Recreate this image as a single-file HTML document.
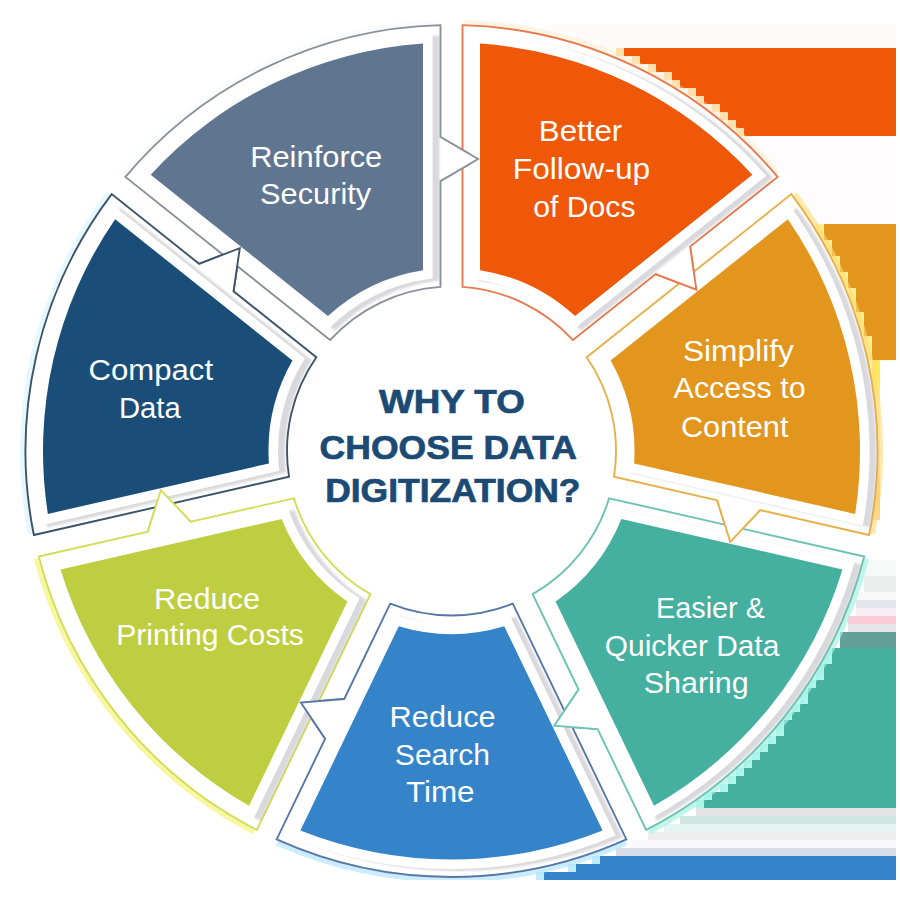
<!DOCTYPE html>
<html><head><meta charset="utf-8"><title>Why to choose data digitization</title>
<style>
html,body{margin:0;padding:0;background:#fff;}
body{width:900px;height:900px;overflow:hidden;font-family:"Liberation Sans",sans-serif;}
svg{display:block}
.lb{font-family:"Liberation Sans",sans-serif;font-size:29px;fill:#fff;}
.ct{font-family:"Liberation Sans",sans-serif;font-size:33px;font-weight:bold;fill:#1b4a75;stroke:#1b4a75;stroke-width:0.7px;}
</style></head><body>
<svg width="900" height="900" viewBox="0 0 900 900">
<defs>
<filter id="sh" x="-10%" y="-10%" width="120%" height="120%">
<feGaussianBlur in="SourceAlpha" stdDeviation="1.1" result="b"/>
<feOffset in="b" dx="6.5" dy="2.2" result="o"/>
<feFlood flood-color="#8e8e9c" flood-opacity="0.34"/>
<feComposite in2="o" operator="in" result="s"/>
<feMerge><feMergeNode in="s"/><feMergeNode in="SourceGraphic"/></feMerge>
</filter>
<linearGradient id="gf" x1="0" y1="0" x2="0" y2="1">
<stop offset="0" stop-color="#ffe85c"/><stop offset="0.12" stop-color="#ffe85c"/><stop offset="0.3" stop-color="#fff3b0"/><stop offset="0.6" stop-color="#fdebc8"/><stop offset="0.85" stop-color="#f6c878"/><stop offset="1" stop-color="#f8d8a0"/>
</linearGradient>
</defs>
<rect width="900" height="900" fill="#fff"/>
<rect x="552" y="24.0" width="344.0" height="8.1" fill="#fdf9f9"/>
<rect x="576" y="32.0" width="320.0" height="8.1" fill="#fdf9f9"/>
<rect x="600" y="40.0" width="296.0" height="8.1" fill="#fdf9f9"/>
<rect x="616" y="48.0" width="8" height="8.1" fill="#ffd591" opacity="0.75"/>
<rect x="624" y="48.0" width="272.0" height="8.1" fill="#ef5709"/>
<rect x="632" y="56.0" width="8" height="8.1" fill="#ffd591" opacity="0.75"/>
<rect x="640" y="56.0" width="256.0" height="8.1" fill="#ef5709"/>
<rect x="648" y="64.0" width="8" height="8.1" fill="#ffd591" opacity="0.75"/>
<rect x="656" y="64.0" width="240.0" height="8.1" fill="#ef5709"/>
<rect x="664" y="72.0" width="8" height="8.1" fill="#ffd591" opacity="0.75"/>
<rect x="672" y="72.0" width="224.0" height="8.1" fill="#ef5709"/>
<rect x="672" y="80.0" width="8" height="8.1" fill="#ffd591" opacity="0.75"/>
<rect x="680" y="80.0" width="216.0" height="8.1" fill="#ef5709"/>
<rect x="688" y="88.0" width="8" height="8.1" fill="#ffd591" opacity="0.75"/>
<rect x="696" y="88.0" width="200.0" height="8.1" fill="#ef5709"/>
<rect x="696" y="96.0" width="8" height="8.1" fill="#ffd591" opacity="0.75"/>
<rect x="704" y="96.0" width="192.0" height="8.1" fill="#ef5709"/>
<rect x="712" y="104.0" width="8" height="8.1" fill="#ffd591" opacity="0.75"/>
<rect x="720" y="104.0" width="176.0" height="8.1" fill="#ef5709"/>
<rect x="720" y="112.0" width="8" height="8.1" fill="#ffd591" opacity="0.75"/>
<rect x="728" y="112.0" width="168.0" height="8.1" fill="#ef5709"/>
<rect x="728" y="120.0" width="8" height="8.1" fill="#ffd591" opacity="0.75"/>
<rect x="736" y="120.0" width="160.0" height="8.1" fill="#ef5709"/>
<rect x="736" y="128.0" width="8" height="8.1" fill="#ffd591" opacity="0.75"/>
<rect x="744" y="128.0" width="152.0" height="8.1" fill="#ef5709"/>
<rect x="752" y="136.0" width="144.0" height="8.1" fill="#fefcfc"/>
<rect x="760" y="144.0" width="136.0" height="8.1" fill="#fefcfc"/>
<rect x="768" y="152.0" width="128.0" height="8.1" fill="#fefcfc"/>
<rect x="776" y="160.0" width="120.0" height="8.1" fill="#fefcfc"/>
<rect x="784" y="168.0" width="112.0" height="8.1" fill="#fefcfc"/>
<rect x="792" y="176.0" width="104.0" height="8.1" fill="#fefcfc"/>
<rect x="792" y="184.0" width="104.0" height="8.1" fill="#fefcfc"/>
<rect x="800" y="192.0" width="96.0" height="8.1" fill="#fefcfc"/>
<rect x="808" y="200.0" width="88.0" height="8.1" fill="#fefcfc"/>
<rect x="816" y="208.0" width="80.0" height="8.1" fill="#fefcfc"/>
<rect x="816" y="216.0" width="80.0" height="8.1" fill="#fefcfc"/>
<rect x="816" y="224.0" width="8" height="8.1" fill="#ffe96a" opacity="0.75"/>
<rect x="824" y="224.0" width="72.0" height="8.1" fill="#e2961d"/>
<rect x="816" y="232.0" width="8" height="8.1" fill="#ffe96a" opacity="0.75"/>
<rect x="824" y="232.0" width="72.0" height="8.1" fill="#e2961d"/>
<rect x="824" y="240.0" width="8" height="8.1" fill="#ffe96a" opacity="0.75"/>
<rect x="832" y="240.0" width="64.0" height="8.1" fill="#e2961d"/>
<rect x="824" y="248.0" width="8" height="8.1" fill="#ffe96a" opacity="0.75"/>
<rect x="832" y="248.0" width="64.0" height="8.1" fill="#e2961d"/>
<rect x="832" y="256.0" width="8" height="8.1" fill="#ffe96a" opacity="0.75"/>
<rect x="840" y="256.0" width="56.0" height="8.1" fill="#e2961d"/>
<rect x="832" y="264.0" width="8" height="8.1" fill="#ffe96a" opacity="0.75"/>
<rect x="840" y="264.0" width="56.0" height="8.1" fill="#e2961d"/>
<rect x="840" y="272.0" width="8" height="8.1" fill="#ffe96a" opacity="0.75"/>
<rect x="848" y="272.0" width="48.0" height="8.1" fill="#e2961d"/>
<rect x="840" y="280.0" width="8" height="8.1" fill="#ffe96a" opacity="0.75"/>
<rect x="848" y="280.0" width="48.0" height="8.1" fill="#e2961d"/>
<rect x="848" y="288.0" width="8" height="8.1" fill="#ffe96a" opacity="0.75"/>
<rect x="856" y="288.0" width="40.0" height="8.1" fill="#e2961d"/>
<rect x="848" y="296.0" width="8" height="8.1" fill="#ffe96a" opacity="0.75"/>
<rect x="856" y="296.0" width="40.0" height="8.1" fill="#e2961d"/>
<rect x="848" y="304.0" width="8" height="8.1" fill="#ffe96a" opacity="0.75"/>
<rect x="856" y="304.0" width="40.0" height="8.1" fill="#e2961d"/>
<rect x="856" y="312.0" width="8" height="8.1" fill="#ffe96a" opacity="0.75"/>
<rect x="864" y="312.0" width="32.0" height="8.1" fill="#e2961d"/>
<rect x="856" y="320.0" width="8" height="8.1" fill="#ffe96a" opacity="0.75"/>
<rect x="864" y="320.0" width="32.0" height="8.1" fill="#e2961d"/>
<rect x="856" y="328.0" width="8" height="8.1" fill="#ffe96a" opacity="0.75"/>
<rect x="864" y="328.0" width="32.0" height="8.1" fill="#e2961d"/>
<rect x="864" y="336.0" width="8" height="8.1" fill="#ffe96a" opacity="0.75"/>
<rect x="872" y="336.0" width="24.0" height="8.1" fill="#e2961d"/>
<rect x="864" y="344.0" width="8" height="8.1" fill="#ffe96a" opacity="0.75"/>
<rect x="872" y="344.0" width="24.0" height="8.1" fill="#e2961d"/>
<rect x="864" y="352.0" width="8" height="8.1" fill="#ffe96a" opacity="0.75"/>
<rect x="872" y="352.0" width="24.0" height="8.1" fill="#e2961d"/>
<rect x="864" y="560.0" width="32.0" height="8.1" fill="#f5faf8"/>
<rect x="864" y="568.0" width="32.0" height="8.1" fill="#f5faf8"/>
<rect x="864" y="576.0" width="32.0" height="8.1" fill="#e9eeec"/>
<rect x="864" y="584.0" width="32.0" height="8.1" fill="#e9eeec"/>
<rect x="856" y="592.0" width="40.0" height="8.1" fill="#f8f8f8"/>
<rect x="856" y="600.0" width="40.0" height="8.1" fill="#e2e5ea"/>
<rect x="856" y="608.0" width="40.0" height="8.1" fill="#f6eef2"/>
<rect x="848" y="616.0" width="48.0" height="8.1" fill="#f9cbd9"/>
<rect x="848" y="624.0" width="48.0" height="8.1" fill="#e6e6ea"/>
<rect x="840" y="632.0" width="56.0" height="8.1" fill="#63a196"/>
<rect x="840" y="640.0" width="56.0" height="8.1" fill="#63a196"/>
<rect x="824" y="648.0" width="8" height="8.1" fill="#93f3e3" opacity="0.75"/>
<rect x="832" y="648.0" width="64.0" height="8.1" fill="#45b0a0"/>
<rect x="824" y="656.0" width="8" height="8.1" fill="#93f3e3" opacity="0.75"/>
<rect x="832" y="656.0" width="64.0" height="8.1" fill="#45b0a0"/>
<rect x="816" y="664.0" width="8" height="8.1" fill="#93f3e3" opacity="0.75"/>
<rect x="824" y="664.0" width="72.0" height="8.1" fill="#45b0a0"/>
<rect x="816" y="672.0" width="8" height="8.1" fill="#93f3e3" opacity="0.75"/>
<rect x="824" y="672.0" width="72.0" height="8.1" fill="#45b0a0"/>
<rect x="808" y="680.0" width="8" height="8.1" fill="#93f3e3" opacity="0.75"/>
<rect x="816" y="680.0" width="80.0" height="8.1" fill="#45b0a0"/>
<rect x="800" y="688.0" width="8" height="8.1" fill="#93f3e3" opacity="0.75"/>
<rect x="808" y="688.0" width="88.0" height="8.1" fill="#45b0a0"/>
<rect x="800" y="696.0" width="8" height="8.1" fill="#93f3e3" opacity="0.75"/>
<rect x="808" y="696.0" width="88.0" height="8.1" fill="#45b0a0"/>
<rect x="792" y="704.0" width="8" height="8.1" fill="#93f3e3" opacity="0.75"/>
<rect x="800" y="704.0" width="96.0" height="8.1" fill="#45b0a0"/>
<rect x="784" y="712.0" width="8" height="8.1" fill="#93f3e3" opacity="0.75"/>
<rect x="792" y="712.0" width="104.0" height="8.1" fill="#45b0a0"/>
<rect x="776" y="720.0" width="8" height="8.1" fill="#93f3e3" opacity="0.75"/>
<rect x="784" y="720.0" width="112.0" height="8.1" fill="#45b0a0"/>
<rect x="776" y="728.0" width="8" height="8.1" fill="#93f3e3" opacity="0.75"/>
<rect x="784" y="728.0" width="112.0" height="8.1" fill="#45b0a0"/>
<rect x="768" y="736.0" width="8" height="8.1" fill="#93f3e3" opacity="0.75"/>
<rect x="776" y="736.0" width="120.0" height="8.1" fill="#45b0a0"/>
<rect x="760" y="744.0" width="8" height="8.1" fill="#93f3e3" opacity="0.75"/>
<rect x="768" y="744.0" width="128.0" height="8.1" fill="#45b0a0"/>
<rect x="752" y="752.0" width="8" height="8.1" fill="#93f3e3" opacity="0.75"/>
<rect x="760" y="752.0" width="136.0" height="8.1" fill="#45b0a0"/>
<rect x="744" y="760.0" width="8" height="8.1" fill="#93f3e3" opacity="0.75"/>
<rect x="752" y="760.0" width="144.0" height="8.1" fill="#45b0a0"/>
<rect x="736" y="768.0" width="8" height="8.1" fill="#93f3e3" opacity="0.75"/>
<rect x="744" y="768.0" width="152.0" height="8.1" fill="#45b0a0"/>
<rect x="728" y="776.0" width="8" height="8.1" fill="#93f3e3" opacity="0.75"/>
<rect x="736" y="776.0" width="160.0" height="8.1" fill="#45b0a0"/>
<rect x="720" y="784.0" width="8" height="8.1" fill="#93f3e3" opacity="0.75"/>
<rect x="728" y="784.0" width="168.0" height="8.1" fill="#45b0a0"/>
<rect x="704" y="792.0" width="8" height="8.1" fill="#93f3e3" opacity="0.75"/>
<rect x="712" y="792.0" width="184.0" height="8.1" fill="#45b0a0"/>
<rect x="696" y="800.0" width="8" height="8.1" fill="#93f3e3" opacity="0.75"/>
<rect x="704" y="800.0" width="192.0" height="8.1" fill="#45b0a0"/>
<rect x="696" y="808.0" width="200.0" height="8.1" fill="#e3e3e3"/>
<rect x="680" y="816.0" width="216.0" height="8.1" fill="#d0e6e0"/>
<rect x="664" y="824.0" width="232.0" height="8.1" fill="#e6f5f1"/>
<rect x="648" y="832.0" width="248.0" height="8.1" fill="#eeeeee"/>
<rect x="632" y="840.0" width="264.0" height="8.1" fill="#f8f8fc"/>
<rect x="616" y="848.0" width="280.0" height="8.1" fill="#d9dee6"/>
<rect x="592" y="856.0" width="8" height="8.1" fill="#a8e6ff" opacity="0.75"/>
<rect x="600" y="856.0" width="296.0" height="8.1" fill="#3583c9"/>
<rect x="568" y="864.0" width="8" height="8.1" fill="#a8e6ff" opacity="0.75"/>
<rect x="576" y="864.0" width="320.0" height="8.1" fill="#3583c9"/>
<rect x="536" y="872.0" width="8" height="8.1" fill="#a8e6ff" opacity="0.75"/>
<rect x="544" y="872.0" width="352.0" height="8.1" fill="#3583c9"/>
<rect x="872" y="360" width="8" height="160" fill="url(#gf)"/>
<circle cx="451.5" cy="451.0" r="427" fill="#fff"/>
<path d="M464.37 22.19 A429 429 0 0 1 778.73 173.58" fill="none" stroke="#ffe2b8" stroke-width="5" opacity="0.4"/>
<path d="M794.78 193.70 A429 429 0 0 1 872.42 533.87" fill="none" stroke="#ffd978" stroke-width="5" opacity="0.6"/>
<path d="M866.69 558.96 A429 429 0 0 1 649.15 831.76" fill="none" stroke="#a8f2e6" stroke-width="5" opacity="0.7"/>
<path d="M625.96 842.92 A429 429 0 0 1 277.04 842.92" fill="none" stroke="#b4e6ff" stroke-width="5" opacity="0.7"/>
<path d="M253.85 831.76 A429 429 0 0 1 36.31 558.96" fill="none" stroke="#f3f37a" stroke-width="5" opacity="0.7"/>
<path d="M30.58 533.87 A429 429 0 0 1 108.22 193.70" fill="none" stroke="#d4f3ff" stroke-width="5" opacity="0.6"/>
<path d="M124.27 173.58 A429 429 0 0 1 438.63 22.19" fill="none" stroke="#eef3f8" stroke-width="5" opacity="0.3"/>
<path d="M462.50 25.14 A426.00 426.00 0 0 1 777.59 176.88 L690.14 246.62 L696.38 289.74 L655.74 274.06 L572.97 340.07 A164.50 164.50 0 0 0 462.50 286.87 Z" fill="#fff" stroke="#e77a4e" stroke-width="1.9" stroke-linejoin="miter"/>
<path d="M791.31 194.08 A426.00 426.00 0 0 1 869.13 535.04 L760.08 510.15 L730.26 541.91 L717.18 500.36 L613.96 476.80 A164.50 164.50 0 0 0 586.68 357.27 Z" fill="#fff" stroke="#e6b04a" stroke-width="1.9" stroke-linejoin="miter"/>
<path d="M864.23 556.49 A426.00 426.00 0 0 1 646.18 829.91 L597.65 729.13 L554.23 725.62 L578.56 689.49 L532.62 594.10 A164.50 164.50 0 0 0 609.07 498.25 Z" fill="#fff" stroke="#6cc3b4" stroke-width="1.9" stroke-linejoin="miter"/>
<path d="M626.36 839.46 A426.00 426.00 0 0 1 276.64 839.46 L325.17 738.68 L300.84 702.54 L344.26 699.03 L390.20 603.65 A164.50 164.50 0 0 0 512.80 603.65 Z" fill="#fff" stroke="#5777a6" stroke-width="1.9" stroke-linejoin="miter"/>
<path d="M256.82 829.91 A426.00 426.00 0 0 1 38.77 556.49 L147.82 531.60 L160.90 490.04 L190.72 521.80 L293.93 498.25 A164.50 164.50 0 0 0 370.38 594.10 Z" fill="#fff" stroke="#d2dd5a" stroke-width="1.9" stroke-linejoin="miter"/>
<path d="M33.87 535.04 A426.00 426.00 0 0 1 111.69 194.08 L199.15 263.82 L239.79 248.14 L233.55 291.26 L316.32 357.27 A164.50 164.50 0 0 0 289.04 476.80 Z" fill="#fff" stroke="#3e5368" stroke-width="1.9" stroke-linejoin="miter"/>
<path d="M125.41 176.88 A426.00 426.00 0 0 1 440.50 25.14 L440.50 137.00 L478.10 159.00 L440.50 181.00 L440.50 286.87 A164.50 164.50 0 0 0 330.03 340.07 Z" fill="#fff" stroke="#8b9099" stroke-width="1.9" stroke-linejoin="miter"/>
<path d="M470.50 33.43 A418.00 418.00 0 0 1 766.12 175.80 L574.49 328.62 A173.50 173.50 0 0 0 470.50 278.54 Z" fill="#fff" filter="url(#sh)"/>
<path d="M789.81 205.51 A418.00 418.00 0 0 1 862.83 525.39 L623.86 470.85 A173.50 173.50 0 0 0 598.18 358.33 Z" fill="#fff" filter="url(#sh)"/>
<path d="M854.37 562.44 A418.00 418.00 0 0 1 649.79 818.97 L543.44 598.13 A173.50 173.50 0 0 0 615.40 507.90 Z" fill="#fff" filter="url(#sh)"/>
<path d="M615.56 835.46 A418.00 418.00 0 0 1 287.44 835.46 L393.79 614.62 A173.50 173.50 0 0 0 509.21 614.62 Z" fill="#fff" filter="url(#sh)"/>
<path d="M253.21 818.97 A418.00 418.00 0 0 1 48.63 562.44 L287.60 507.90 A173.50 173.50 0 0 0 359.56 598.13 Z" fill="#fff" filter="url(#sh)"/>
<path d="M40.17 525.39 A418.00 418.00 0 0 1 113.19 205.51 L304.82 358.33 A173.50 173.50 0 0 0 279.14 470.85 Z" fill="#fff" filter="url(#sh)"/>
<path d="M136.88 175.80 A418.00 418.00 0 0 1 432.50 33.43 L432.50 278.54 A173.50 173.50 0 0 0 328.51 328.62 Z" fill="#fff" filter="url(#sh)"/>
<polygon points="690.14,246.62 696.38,289.74 655.74,274.06" fill="#fff"/>
<polyline points="690.14,246.62 696.38,289.74 655.74,274.06" fill="none" stroke="#e77a4e" stroke-width="1.9"/>
<polygon points="760.08,510.15 730.26,541.91 717.18,500.36" fill="#fff"/>
<polyline points="760.08,510.15 730.26,541.91 717.18,500.36" fill="none" stroke="#e6b04a" stroke-width="1.9"/>
<polygon points="597.65,729.13 554.23,725.62 578.56,689.49" fill="#fff"/>
<polyline points="597.65,729.13 554.23,725.62 578.56,689.49" fill="none" stroke="#6cc3b4" stroke-width="1.9"/>
<polygon points="325.17,738.68 300.84,702.54 344.26,699.03" fill="#fff"/>
<polyline points="325.17,738.68 300.84,702.54 344.26,699.03" fill="none" stroke="#5777a6" stroke-width="1.9"/>
<polygon points="147.82,531.60 160.90,490.04 190.72,521.80" fill="#fff"/>
<polyline points="147.82,531.60 160.90,490.04 190.72,521.80" fill="none" stroke="#d2dd5a" stroke-width="1.9"/>
<polygon points="199.15,263.82 239.79,248.14 233.55,291.26" fill="#fff"/>
<polyline points="199.15,263.82 239.79,248.14 233.55,291.26" fill="none" stroke="#3e5368" stroke-width="1.9"/>
<polygon points="440.50,137.00 478.10,159.00 440.50,181.00" fill="#fff"/>
<polyline points="440.50,137.00 478.10,159.00 440.50,181.00" fill="none" stroke="#8b9099" stroke-width="1.9"/>
<path d="M480.00 43.50 A408.50 408.50 0 0 1 752.33 174.64 L575.06 316.01 A183.00 183.00 0 0 0 480.00 270.23 Z" fill="#ef5709"/>
<path d="M787.87 219.21 A408.50 408.50 0 0 1 855.13 513.89 L634.08 463.44 A183.00 183.00 0 0 0 610.60 360.58 Z" fill="#e2961d"/>
<path d="M842.45 569.46 A408.50 408.50 0 0 1 653.99 805.78 L555.61 601.50 A183.00 183.00 0 0 0 621.39 519.01 Z" fill="#45b0a0"/>
<path d="M602.63 830.51 A408.50 408.50 0 0 1 300.37 830.51 L398.75 626.23 A183.00 183.00 0 0 0 504.25 626.23 Z" fill="#3583c9"/>
<path d="M249.01 805.78 A408.50 408.50 0 0 1 60.55 569.46 L281.61 519.01 A183.00 183.00 0 0 0 347.39 601.50 Z" fill="#bfce40"/>
<path d="M47.87 513.89 A408.50 408.50 0 0 1 115.13 219.21 L292.40 360.58 A183.00 183.00 0 0 0 268.92 463.44 Z" fill="#1a4e78"/>
<path d="M150.67 174.64 A408.50 408.50 0 0 1 423.00 43.50 L423.00 270.23 A183.00 183.00 0 0 0 327.94 316.01 Z" fill="#5f7590"/>
<text x="538.84" y="141.2" class="lb" textLength="83.39" lengthAdjust="spacingAndGlyphs">Better</text>
<text x="512.81" y="179.0" class="lb" textLength="137.42" lengthAdjust="spacingAndGlyphs">Follow-up</text>
<text x="533.36" y="216.6" class="lb" textLength="102.16" lengthAdjust="spacingAndGlyphs">of Docs</text>
<text x="682.91" y="361.0" class="lb" textLength="110.95" lengthAdjust="spacingAndGlyphs">Simplify</text>
<text x="673.60" y="398.0" class="lb" textLength="131.98" lengthAdjust="spacingAndGlyphs">Access to</text>
<text x="680.94" y="436.6" class="lb" textLength="107.52" lengthAdjust="spacingAndGlyphs">Content</text>
<text x="656.12" y="618.2" class="lb" textLength="108.72" lengthAdjust="spacingAndGlyphs">Easier &amp;</text>
<text x="604.87" y="655.5" class="lb" textLength="174.43" lengthAdjust="spacingAndGlyphs">Quicker Data</text>
<text x="643.75" y="692.8" class="lb" textLength="104.93" lengthAdjust="spacingAndGlyphs">Sharing</text>
<text x="389.58" y="727.4" class="lb" textLength="106.12" lengthAdjust="spacingAndGlyphs">Reduce</text>
<text x="394.86" y="764.6" class="lb" textLength="95.10" lengthAdjust="spacingAndGlyphs">Search</text>
<text x="405.90" y="802.4" class="lb" textLength="68.62" lengthAdjust="spacingAndGlyphs">Time</text>
<text x="154.08" y="608.6" class="lb" textLength="106.02" lengthAdjust="spacingAndGlyphs">Reduce</text>
<text x="116.22" y="644.6" class="lb" textLength="187.70" lengthAdjust="spacingAndGlyphs">Printing Costs</text>
<text x="88.53" y="380.0" class="lb" textLength="124.53" lengthAdjust="spacingAndGlyphs">Compact</text>
<text x="118.98" y="417.6" class="lb" textLength="61.74" lengthAdjust="spacingAndGlyphs">Data</text>
<text x="250.17" y="167.2" class="lb" textLength="132.13" lengthAdjust="spacingAndGlyphs">Reinforce</text>
<text x="260.14" y="204.0" class="lb" textLength="111.03" lengthAdjust="spacingAndGlyphs">Security</text>
<text x="379.00" y="413.3" class="ct" textLength="145.74" lengthAdjust="spacingAndGlyphs">WHY TO</text>
<text x="319.62" y="458.5" class="ct" textLength="257.27" lengthAdjust="spacingAndGlyphs">CHOOSE DATA</text>
<text x="325.15" y="502.0" class="ct" textLength="255.39" lengthAdjust="spacingAndGlyphs">DIGITIZATION?</text>
<rect x="896" y="0" width="4" height="900" fill="#fff"/>
<rect x="0" y="880" width="900" height="20" fill="#fff"/>
</svg>
</body></html>
